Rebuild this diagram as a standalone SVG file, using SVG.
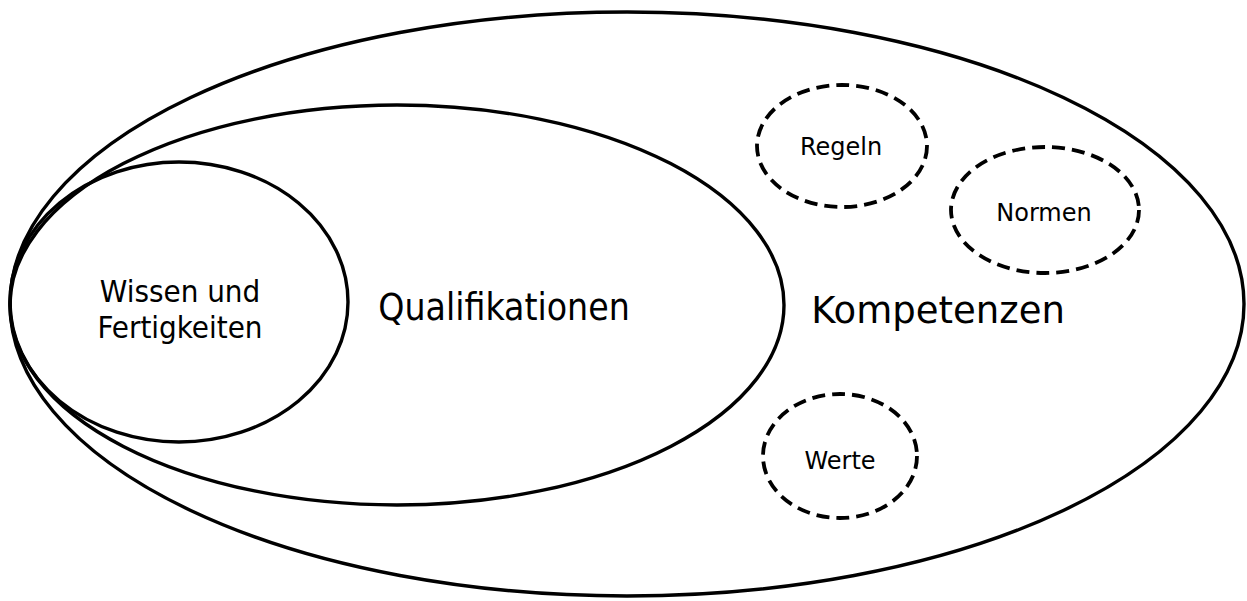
<svg xmlns="http://www.w3.org/2000/svg" width="1247" height="601" viewBox="0 0 1247 601">
<style>
.solid{fill:none;stroke:#000;stroke-width:3.4}
.dash{fill:none;stroke:#000;stroke-width:3.8;stroke-dasharray:13 7}
.t{font-family:"DejaVu Sans",Verdana,sans-serif;fill:#000;text-anchor:middle}
.c{font-family:"DejaVu Sans Condensed","DejaVu Sans",sans-serif;fill:#000;text-anchor:middle}
</style>
<rect width="1247" height="601" fill="#fff"/>
<g id="kompetenzen">
<ellipse class="solid" cx="627" cy="304" rx="617" ry="292"/>
<text class="t" x="938" y="323" font-size="37">Kompetenzen</text>
</g>
<g id="qualifikationen">
<ellipse class="solid" cx="397" cy="305" rx="387" ry="200"/>
<text class="c" x="504" y="320" font-size="37">Qualifikationen</text>
</g>
<g id="wissen">
<ellipse class="solid" cx="179" cy="302" rx="169" ry="140"/>
<text class="c" x="180" y="302" font-size="31">Wissen und</text>
<text class="c" x="180" y="338" font-size="31">Fertigkeiten</text>
</g>
<g id="regeln">
<ellipse class="dash" cx="842" cy="146" rx="85" ry="61"/>
<text class="t" x="841" y="155" font-size="24">Regeln</text>
</g>
<g id="normen">
<ellipse class="dash" cx="1045" cy="210" rx="94" ry="63"/>
<text class="t" x="1044" y="221" font-size="24">Normen</text>
</g>
<g id="werte">
<ellipse class="dash" cx="840" cy="456" rx="77" ry="62"/>
<text class="t" x="840" y="469" font-size="24">Werte</text>
</g>
<g id="connectors"/>
</svg>
